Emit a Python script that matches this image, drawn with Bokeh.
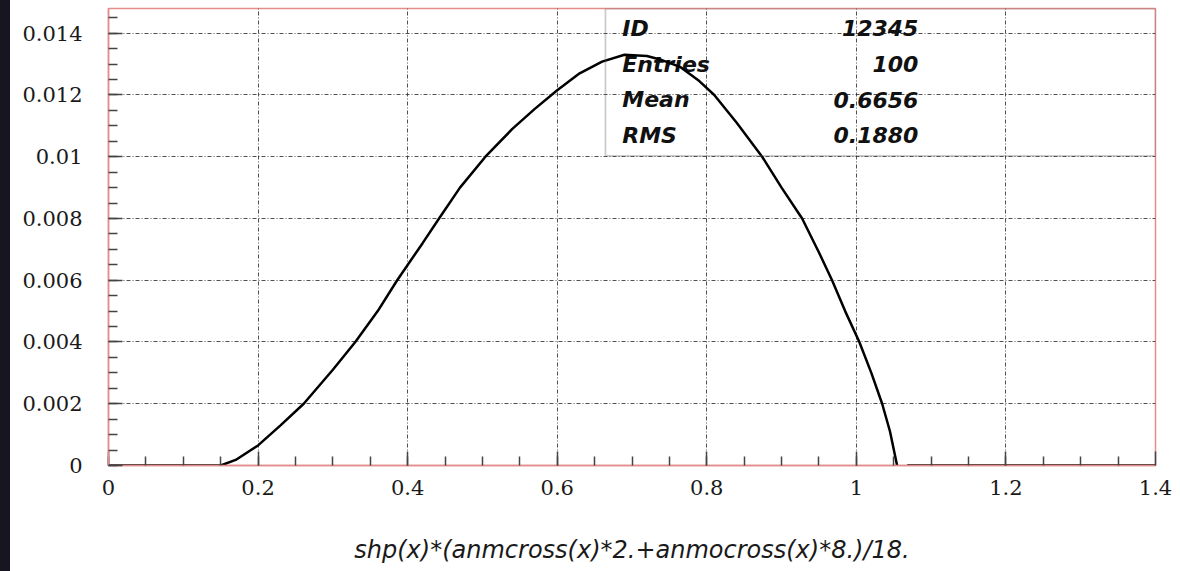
from bokeh.plotting import figure
from bokeh.models import Range1d, FixedTicker, PrintfTickFormatter, BoxAnnotation, Div, ColumnDataSource
from bokeh.layouts import row
from bokeh.core.properties import value
from bokeh.embed import file_html
from bokeh.resources import INLINE

# ---- data ----
x_vals = [0.0, 0.15, 0.17, 0.2, 0.23, 0.261, 0.3, 0.33, 0.36, 0.386, 0.42, 0.442, 0.47, 0.504,
          0.54, 0.57, 0.6, 0.63, 0.66, 0.69, 0.72, 0.74, 0.765, 0.79, 0.81, 0.84, 0.874, 0.9,
          0.9275, 0.95, 0.9675, 0.985, 1.004, 1.02, 1.0345, 1.045, 1.0545,
          float("nan"), 1.068, 1.4]
y_vals = [0.0, 0.0, 0.00018, 0.00065, 0.0013, 0.002, 0.0031, 0.004, 0.005, 0.006, 0.0072, 0.008, 0.009, 0.010,
          0.0109, 0.01155, 0.01215, 0.0127, 0.01308, 0.0133, 0.01326, 0.01313, 0.0129, 0.01245, 0.012, 0.0111, 0.010, 0.0090,
          0.008, 0.0069, 0.006, 0.0050, 0.004, 0.0030, 0.002, 0.0011, 0.0,
          float("nan"), 0.0, 0.0]

x_major = [0.0, 0.2, 0.4, 0.6, 0.8, 1.0, 1.2, 1.4]
y_major = [0.0, 0.002, 0.004, 0.006, 0.008, 0.010, 0.012, 0.014]

stat_names = ["ID", "Entries", "Mean", "RMS"]
stat_values = ["12345", "100", "0.6656", "0.1880"]

x_title = "shp(x)*(anmcross(x)*2.+anmocross(x)*8.)/18."

X_MAX = 1.4
Y_MAX = 0.0148

p = figure(width=1170, height=571, x_range=Range1d(0, X_MAX), y_range=Range1d(0, Y_MAX),
           output_backend="svg", toolbar_location=None,
           min_border_left=98, min_border_right=25, min_border_top=8, min_border_bottom=106)
p.background_fill_color = "white"
p.border_fill_color = "white"
p.outline_line_color = "#e48c8c"
p.outline_line_width = 1.5

x_minor = [i * 0.05 for i in range(29)]
y_minor = [i * 0.0005 for i in range(30)]
xt = FixedTicker(ticks=x_major, minor_ticks=x_minor)
yt = FixedTicker(ticks=y_major, minor_ticks=y_minor)
p.xaxis.ticker = xt
p.yaxis.ticker = yt
p.xgrid.ticker = xt
p.ygrid.ticker = yt

for ax in (p.xaxis[0], p.yaxis[0]):
    ax.formatter = PrintfTickFormatter(format="%g")
    ax.axis_line_color = "#e48c8c"
    ax.axis_line_width = 1.5
    ax.major_tick_in = 14
    ax.major_tick_out = 0
    ax.minor_tick_in = 9
    ax.minor_tick_out = 0
    ax.major_tick_line_color = "#444444"
    ax.minor_tick_line_color = "#444444"
    ax.major_tick_line_width = 1.5
    ax.minor_tick_line_width = 1.5
    ax.major_label_text_font = "DejaVu Serif"
    ax.major_label_text_font_size = "21px"
    ax.major_label_text_color = "#1a1a1a"

p.yaxis.major_label_standoff = 26
p.xaxis.major_label_standoff = 14
p.xaxis.axis_label = x_title
p.xaxis.axis_label_text_font = "DejaVu Sans"
p.xaxis.axis_label_text_font_style = "italic"
p.xaxis.axis_label_text_font_size = "24px"
p.xaxis.axis_label_text_color = "#1a1a1a"
p.xaxis.axis_label_standoff = 38

for g in (p.xgrid[0], p.ygrid[0]):
    g.grid_line_color = "#333333"
    g.grid_line_dash = "4 2 1 2"
    g.grid_line_width = 1
    g.grid_line_alpha = 0.85

# stats box
box_left = 0.6645
box_bottom = 0.01003
p.add_layout(BoxAnnotation(left=box_left, bottom=box_bottom, fill_alpha=0,
                           line_color="#555555", line_width=1.8))

row_h = (Y_MAX - box_bottom) / 4.13
ys = [Y_MAX - row_h * (i + 0.56) for i in range(len(stat_names))]
src = ColumnDataSource(dict(n=stat_names, v=stat_values, y=ys,
                            xn=[0.687] * 4, xv=[1.083] * 4))
p.text(x="xn", y="y", text="n", source=src, text_font=value("DejaVu Sans"),
       text_font_style="bold italic", text_font_size="22px", text_baseline="middle",
       text_align="left", text_color="#111111")
p.text(x="xv", y="y", text="v", source=src, text_font=value("DejaVu Sans"),
       text_font_style="bold italic", text_font_size="22px", text_baseline="middle",
       text_align="right", text_color="#111111")

p.line(x_vals, y_vals, line_color="black", line_width=2.5)

strip = Div(width=10, height=571, styles={"background-color": "#17151f", "margin": "0", "padding": "0"})
layout = row(strip, p, spacing=0)

open("out.html", "w").write(file_html(layout, INLINE))
